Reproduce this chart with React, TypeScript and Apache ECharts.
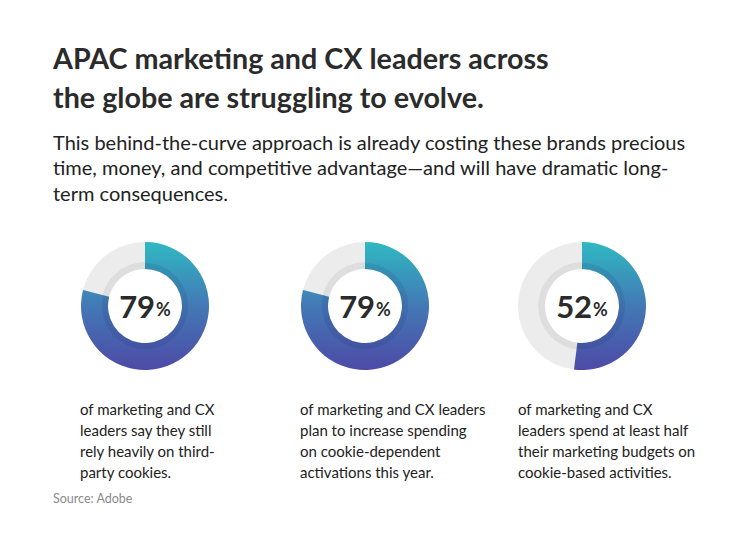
import React, { useEffect, useRef } from "react";
import * as echarts from "echarts";

const titleLines = ["APAC marketing and CX leaders across", "the globe are struggling to evolve."];
const subtitleLines = [
  "This behind-the-curve approach is already costing these brands precious",
  "time, money, and competitive advantage\u2014and will have dramatic long-",
  "term consequences.",
];
const values = [79, 79, 52];
const descriptions = [
  ["of marketing and CX", "leaders say they still", "rely heavily on third-", "party cookies."],
  ["of marketing and CX leaders", "plan to increase spending", "on cookie-dependent", "activations this year."],
  ["of marketing and CX", "leaders spend at least half", "their marketing budgets on", "cookie-based activities."],
];
const sourceText = "Source: Adobe";

const centersX = [145, 365, 582];
const centerY = 306;
const descX = [80, 300, 518];
const FONT = "Lato";

export default function App() {
  const ref = useRef<HTMLDivElement>(null);
  useEffect(() => {
    document.body.style.margin = "0";
    const chart = echarts.init(ref.current!, null, { renderer: "svg" });
    const grad = () =>
      new echarts.graphic.LinearGradient(0, 0, 0, 1, [
        { offset: 0, color: "#2fb9c2" },
        { offset: 0.5, color: "#4378b5" },
        { offset: 1, color: "#4d4aa6" },
      ]);
    const series: any[] = [];
    values.forEach((v, i) => {
      const center = [centersX[i], centerY];
      series.push({
        type: "pie", silent: true, center, radius: [44, 64], startAngle: 90,
        label: { show: false }, labelLine: { show: false },
        data: [{ value: 1, itemStyle: { color: "#ececec" } }],
      });
      series.push({
        type: "pie", silent: true, center, radius: [37, 44], startAngle: 90,
        label: { show: false }, labelLine: { show: false },
        data: [{ value: 1, itemStyle: { color: "#dedede" } }],
      });
      series.push({
        type: "pie", silent: true, center, radius: [37, 64], startAngle: 90, clockwise: true,
        labelLine: { show: false },
        data: [
          {
            value: v,
            itemStyle: { color: grad() },
            label: {
              show: true, position: "center",
              formatter: `{n|${v}}{p|%}`,
              rich: {
                n: { fontFamily: FONT, fontWeight: "bold", fontSize: 31, color: "#2b2b2b" },
                p: { fontFamily: FONT, fontWeight: "bold", fontSize: 18, color: "#2b2b2b", padding: [6, 0, 0, 1] },
              },
            },
          },
          { value: 100 - v, itemStyle: { color: "rgba(0,0,0,0)" }, label: { show: false } },
        ],
      });
      series.push({
        type: "pie", silent: true, center, radius: [37, 43], startAngle: 90, clockwise: true,
        label: { show: false }, labelLine: { show: false },
        data: [
          { value: v, itemStyle: { color: "rgba(20,30,90,0.10)" } },
          { value: 100 - v, itemStyle: { color: "rgba(0,0,0,0)" } },
        ],
      });
    });

    const graphic: any[] = [
      {
        type: "text", x: 53, y: 77,
        style: {
          text: titleLines.join("\n"), fontFamily: FONT, fontWeight: "bold", fontSize: 28.7,
          lineHeight: 39, fill: "#2b2b2b", verticalAlign: "middle",
        },
      },
      {
        type: "text", x: 53, y: 167,
        style: {
          text: subtitleLines.join("\n"), fontFamily: FONT, fontSize: 20,
          lineHeight: 25.5, fill: "#222222", verticalAlign: "middle",
        },
      },
      ...descriptions.map((d, i) => ({
        type: "text", x: descX[i], y: 440,
        style: {
          text: d.join("\n"), fontFamily: FONT, fontSize: 15,
          lineHeight: 21, fill: "#222222", verticalAlign: "middle",
        },
      })),
      {
        type: "text", x: 53, y: 498,
        style: { text: sourceText, fontFamily: FONT, fontSize: 12.5, fill: "#8a8a8a", verticalAlign: "middle" },
      },
    ];

    chart.setOption({ animation: false, backgroundColor: "#ffffff", series, graphic });
    return () => chart.dispose();
  }, []);
  return <div ref={ref} style={{ width: 750, height: 535 }} />;
}
